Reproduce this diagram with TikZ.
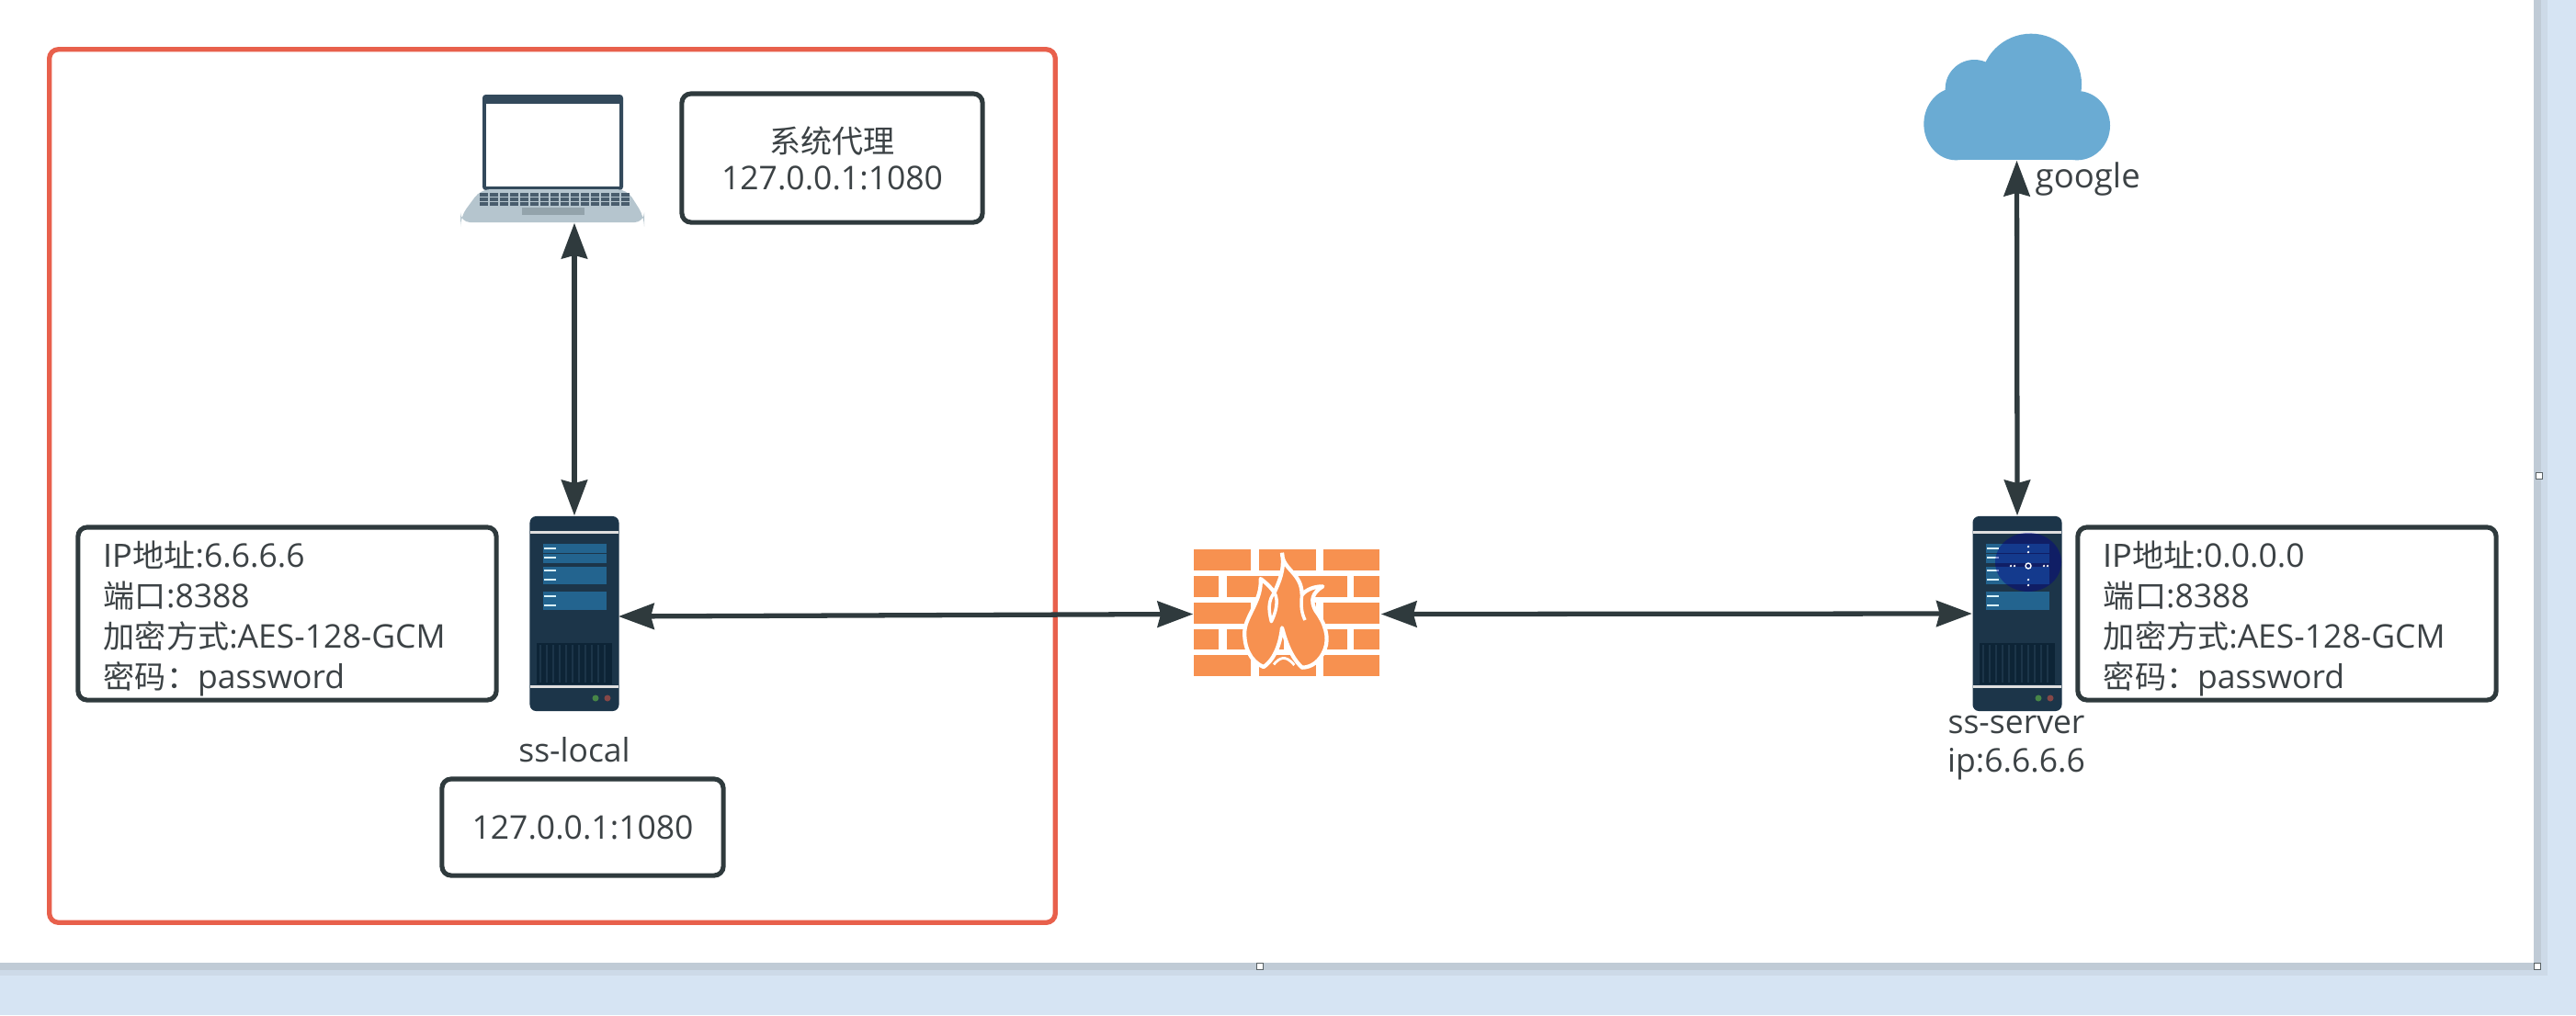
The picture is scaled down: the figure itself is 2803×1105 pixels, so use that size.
\documentclass[tikz,border=0pt]{standalone}
\usepackage{fontspec}
\usetikzlibrary{arrows.meta}
\setmainfont{Open Sans}
\newfontfamily\zh[Scale=0.96]{Noto Sans CJK SC}
\definecolor{inkc}{HTML}{2F3A3D}
\definecolor{textc}{HTML}{3C4245}
\definecolor{redc}{HTML}{E8604C}
\definecolor{deskc}{HTML}{D6E4F3}
\definecolor{srvc}{HTML}{1C3549}
\definecolor{barc}{HTML}{23648F}
\definecolor{grillc}{HTML}{0D2436}
\definecolor{brickc}{HTML}{F79150}
\definecolor{cloudc}{HTML}{6AABD3}
\definecolor{basec}{HTML}{B5C5CE}
\definecolor{padc}{HTML}{93A3AB}
\tikzset{
  box/.style={draw=inkc,line width=1.45pt,rounded corners=0.1cm,fill=white,text=textc,inner sep=0pt,
    font=\fontsize{10.1}{11.4}\selectfont,align=center},
  infobox/.style={box,align=left,text width=3.99cm,inner xsep=0.28cm,minimum width=4.55cm,minimum height=1.88cm,
    font=\fontsize{10.1}{12.5}\selectfont},
  label/.style={text=textc,inner sep=0pt,font=\fontsize{10.1}{11.9}\selectfont,align=center},
  icon/.style={inner sep=0pt,minimum width=#1},
  link/.style={draw=inkc,line width=1.5pt,{Stealth[length=11pt,width=8pt,inset=1pt]}-{Stealth[length=11pt,width=8pt,inset=1pt]}},
  handle/.style={draw=inkc!80,fill=white,line width=0.5pt}
}
\begin{document}
\begin{tikzpicture}[x=0.01cm,y=-0.01cm]
        \useasboundingbox (0,0) rectangle (2803,1105);
        % desk and page
        \fill[deskc] (0,0) rectangle (2803,1105);
        \fill[deskc!90!gray] (0,0) rectangle (2772,1062);
        \fill[deskc!75!gray] (0,0) rectangle (2765,1056);
        \fill[white] (0,0) rectangle (2757,1048);
        \foreach \hx/\hy in {2763/518,1371/1052,2761/1052}
            \filldraw[handle] (\hx-3.5,\hy-3.5) rectangle (\hx+3.5,\hy+3.5);

        \node[draw=redc,line width=1.5pt,rounded corners=0.1cm,minimum width=10.94cm,minimum height=9.5cm] (frame) at (601,529) {};

        % laptop
        \node[icon=2cm,minimum height=1.4cm] (laptop) at (601,172) {};
        \fill[srvc!90!white,rounded corners=1pt] (525,103) rectangle (678,207);
        \fill[white] (529,113) rectangle (674,203);
        \fill[basec,rounded corners=3pt] (523,206) -- (682,206) -- (701,236) -- (701,242) -- (501,242) -- (501,236) -- cycle;
        \foreach \ky in {210,215,220}
            \foreach \kx in {0,...,14}
                \fill[srvc!80!white] (522+\kx*11,\ky) rectangle ++(9,3.5);
        \fill[padc] (568,226) rectangle (636,234);

        \node[box,minimum width=3.27cm,minimum height=1.4cm] (proxy) at (905.5,172) {{\zh 系统代理}\\127.0.0.1:1080};

        % servers
        \foreach \srv/\sx in {local/625,remote/2195} {
            \node[fill=srvc,rounded corners=0.07cm,inner sep=0pt,minimum width=0.97cm,minimum height=2.12cm] (\srv) at (\sx,668) {};
            \begin{scope}[shift={(\sx,0)}]
                \fill[gray!25!white] (-48,577.5) rectangle (48,580.5);
                \fill[gray!25!white] (-48,745.5) rectangle (48,748.5);
                \foreach \by in {592,603,617,626,644,654}
                    \fill[barc] (-34,\by) rectangle (35,\by+9.5);
                \foreach \ty in {597,607,621,631,649,659}
                    \fill[white!85!cyan] (-33,\ty-1) rectangle (-20,\ty+1);
                \fill[grillc] (-41,700) rectangle (41,745);
                \foreach \gx in {-37,-30,...,37}
                    \draw[srvc,line width=0.4pt] (\gx,702) -- (\gx,743);
                \fill[green!30!gray!80!black] (23,760) circle (3.5);
                \fill[red!30!gray!80!black] (36,760) circle (3.5);
            \end{scope}
        }
        % blue mark over the remote server
        \fill[blue!55!black,opacity=0.42] (2207,612) ellipse (36 and 32);
        \foreach \mx/\my in {2207/595,2207/601,2207/631,2207/637,2188/616,2192/616,2224/616,2228/616}
            \fill[white] (\mx,\my) circle (1.3);
        \draw[white,line width=0.4pt] (2207,616) circle (3);

        \node[label] (locallabel) at (625,816) {ss-local};
        \node[box,minimum width=3.06cm,minimum height=1.05cm] (localport) at (634,900.5) {127.0.0.1:1080};
        \node[infobox] (localinfo) at (312.5,668) {\rule{0pt}{11pt}{\zh IP地址}:6.6.6.6\\{\zh 端口}:8388\\{\zh 加密方式}:AES-128-GCM\\{\zh 密码：}password};
        \node[infobox] (remoteinfo) at (2488.5,668) {\rule{0pt}{11pt}{\zh IP地址}:0.0.0.0\\{\zh 端口}:8388\\{\zh 加密方式}:AES-128-GCM\\{\zh 密码：}password};
        \node[label] (remotelabel) at (2194,814) {ss-server\\ip:6.6.6.6};

        % firewall
        \node[icon=2.03cm,minimum height=1.38cm] (wall) at (1400.5,668.5) {};
        \begin{scope}[shift={(1260,570)},scale=1/3]
            \foreach \bx/\by/\bw in {118/85/185,330/85/185,540/85/183,
                118/172/80,225/172/185,430/172/188,638/172/85,
                118/258/185,330/258/185,540/258/183,
                118/344/80,225/344/185,430/344/188,638/344/85,
                118/430/185,330/430/185,540/430/183}
                \fill[brickc] (\bx,\by) rectangle ++(\bw,68);
            \filldraw[brickc,draw=white,line width=1.2pt,line join=round]
                (405,95) .. controls (405,150) and (470,160) .. (470,232)
                .. controls (485,215) and (510,205) .. (538,205)
                .. controls (505,225) and (495,250) .. (515,285)
                .. controls (545,325) and (560,370) .. (545,410)
                .. controls (530,450) and (500,470) .. (470,470)
                .. controls (445,445) and (425,415) .. (405,340)
                .. controls (400,385) and (385,440) .. (345,468)
                .. controls (300,450) and (280,400) .. (283,350)
                .. controls (287,300) and (340,250) .. (335,180)
                .. controls (355,195) and (370,210) .. (380,225)
                .. controls (395,190) and (415,150) .. (405,95);
            \draw[white,line width=1pt,line join=round]
                (380,225) .. controls (360,250) and (360,280) .. (370,320)
                .. controls (385,290) and (395,250) .. (380,225);
            \draw[white,line width=1pt,line join=round]
                (470,232) .. controls (465,270) and (470,295) .. (480,315);
            \draw[white,line width=0.8pt] (378,460) .. controls (395,440) and (415,425) .. (445,462);
        \end{scope}

        % cloud
        \node[icon=2.03cm,minimum height=1.37cm] (cloud) at (2194.5,105.5) {};
        \begin{scope}[shift={(2060,20)},scale=1/3]
            \fill[cloudc] (205,345) ellipse (105 and 118);
            \fill[cloudc] (265,230) circle (95);
            \fill[cloudc] (450,215) circle (165);
            \fill[cloudc] (600,350) ellipse (108 and 113);
            \fill[cloudc] (205,250) rectangle (610,463);
        \end{scope}
        \node[label,anchor=west,font=\fontsize{10.4}{12}\selectfont] (google) at (2214,195) {google};

        \coordinate (localside) at (673,671);
        \draw[link] (local.north |- laptop.south) -- (local.north);
        \draw[link] (localside) -- (wall.west);
        \draw[link] (wall.east) -- (remote.west);
        \draw[link] (cloud.south) -- (remote.north);
\end{tikzpicture}
\end{document}
